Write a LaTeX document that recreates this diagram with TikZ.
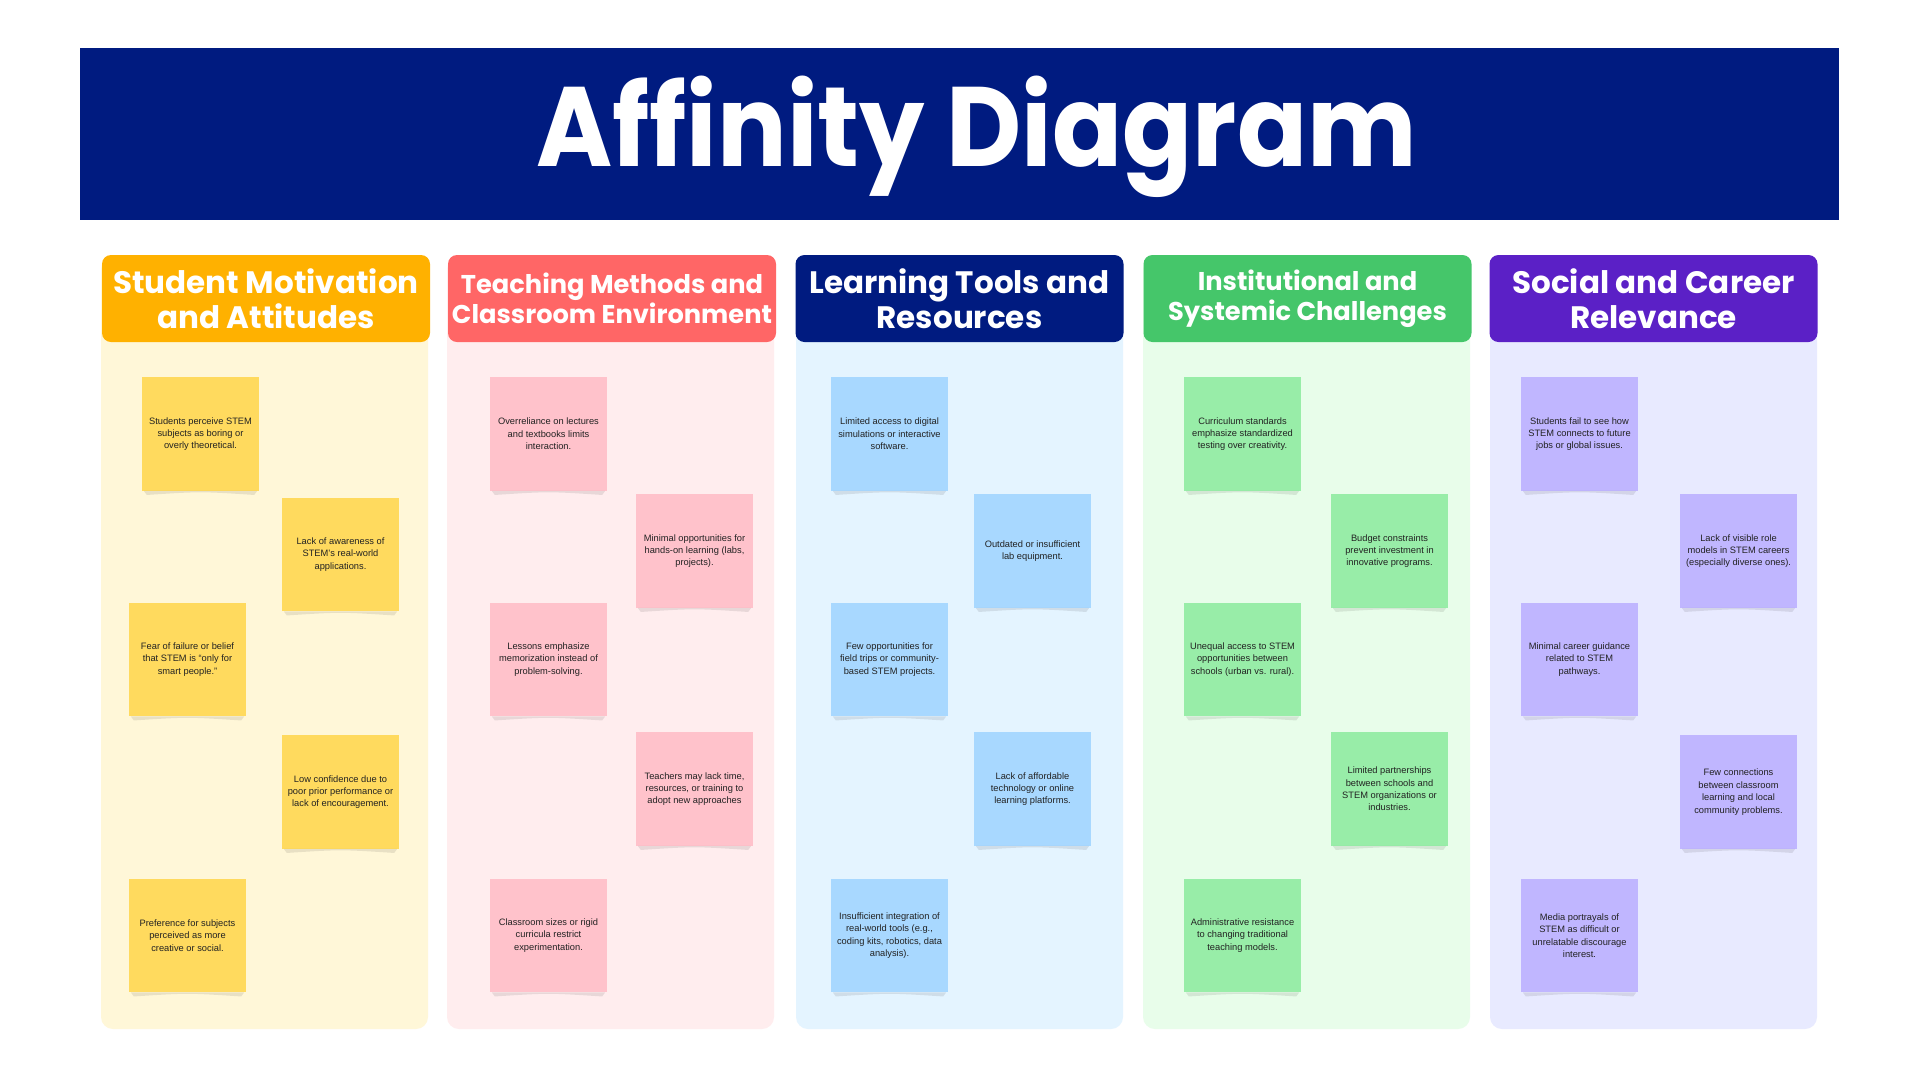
\documentclass[tikz,border=0pt]{standalone}
\usepackage{fontspec}
\setmainfont{Liberation Sans}
\newfontfamily\headfont{Poppins}
\newfontfamily\titlefont{Poppins}[FakeStretch=0.915]

% banner and header colours
\definecolor{navy}{HTML}{001B80}
\definecolor{hdyellow}{HTML}{FFB100}
\definecolor{hdcoral}{HTML}{FF6666}
\definecolor{hdgreen}{HTML}{45C66A}
\definecolor{hdpurple}{HTML}{5B20C6}
% column panels
\definecolor{bgyellow}{HTML}{FFF7D8}
\definecolor{bgpink}{HTML}{FFEDEE}
\definecolor{bgblue}{HTML}{E4F4FF}
\definecolor{bggreen}{HTML}{E8FDEA}
\definecolor{bgpurple}{HTML}{E8EAFF}
% sticky notes
\definecolor{ntyellow}{HTML}{FFDA5E}
\definecolor{ntpink}{HTML}{FFC2CB}
\definecolor{ntblue}{HTML}{A8D8FF}
\definecolor{ntgreen}{HTML}{98EDA8}
\definecolor{ntpurple}{HTML}{C0B6FF}
\definecolor{notetext}{HTML}{222222}

\tikzset{
  banner/.style={fill=navy, text=white, inner sep=0pt, minimum width=1759pt,
    minimum height=172pt},
  panel/.style={rounded corners=12pt, inner sep=0pt, minimum width=327pt, minimum height=772pt},
  header/.style={rounded corners=9pt, inner sep=0pt, minimum width=328pt, minimum height=87pt,
    text=white, align=center},
  bighead/.style={header, font=\headfont\bfseries\fontsize{31}{35}\selectfont},
  smallhead/.style={header, font=\headfont\bfseries\fontsize{25.7}{29.5}\selectfont},
  note/.style={inner sep=0pt, minimum width=117pt, minimum height=113.5pt, align=center,
    text=notetext, font=\fontsize{9.3}{12.4}\selectfont},
  curlshade/.style={fill=black, fill opacity=0.09}
}

% soft curled shadow under a sticky note
\newcommand\notecurl[1]{%
  \fill[curlshade] ([xshift=2pt]#1.south west) -- ([xshift=5pt,yshift=-4pt]#1.south west)
    .. controls ([yshift=-0.5pt]#1.south) .. ([xshift=-5pt,yshift=-4pt]#1.south east)
    -- ([xshift=-2pt]#1.south east) -- cycle;}

\begin{document}
\begin{tikzpicture}[x=1pt,y=-1pt]
\useasboundingbox (0,0) rectangle (1920,1080);
\fill[white] (0,0) rectangle (1920,1080);

% title banner
\node[banner] (title) at (959.5,134) {};
\node[text=white, inner sep=0pt, font=\titlefont\bfseries\fontsize{113}{113}\selectfont]
  (titletext) at ([xshift=17pt,yshift=-3pt]title.center) {Affinity Diagram};

% column panels
\node[panel, fill=bgyellow] (p1) at (264.5,643) {};
\node[panel, fill=bgpink]   (p2) at (610.5,643) {};
\node[panel, fill=bgblue]   (p3) at (959.5,643) {};
\node[panel, fill=bggreen]  (p4) at (1306.5,643) {};
\node[panel, fill=bgpurple] (p5) at (1653.5,643) {};

% column headers
\node[bighead, fill=hdyellow]   (h1) at (266,298.5) {Student Motivation\\and Attitudes};
\node[smallhead, fill=hdcoral]  (h2) at (612,298.5) {Teaching Methods and\\Classroom Environment};
\node[bighead, fill=navy]       (h3) at (959.5,298.5) {Learning Tools and\\Resources};
\node[smallhead, fill=hdgreen]  (h4) at (1307.5,298.5) {Institutional and\\Systemic Challenges};
\node[bighead, fill=hdpurple]   (h5) at (1653.5,298.5) {Social and Career\\Relevance};

% student motivation
\node[note, fill=ntyellow] (a1) at (200.5,434)   {Students perceive STEM\\subjects as boring or\\overly theoretical.};
\node[note, fill=ntyellow] (a2) at (340.5,554.5) {Lack of awareness of\\STEM's real-world\\applications.};
\node[note, fill=ntyellow] (a3) at (187.5,659.5) {Fear of failure or belief\\that STEM is “only for\\smart people.”};
\node[note, fill=ntyellow] (a4) at (340.5,792)   {Low confidence due to\\poor prior performance or\\lack of encouragement.};
\node[note, fill=ntyellow] (a5) at (187.5,935.5) {Preference for subjects\\perceived as more\\creative or social.};

% teaching methods
\node[note, fill=ntpink] (b1) at (548.5,434)   {Overreliance on lectures\\and textbooks limits\\interaction.};
\node[note, fill=ntpink] (b2) at (694.5,551)   {Minimal opportunities for\\hands-on learning (labs,\\projects).};
\node[note, fill=ntpink] (b3) at (548.5,659.5) {Lessons emphasize\\memorization instead of\\problem-solving.};
\node[note, fill=ntpink] (b4) at (694.5,789)   {Teachers may lack time,\\resources, or training to\\adopt new approaches};
\node[note, fill=ntpink] (b5) at (548.5,935.5) {Classroom sizes or rigid\\curricula restrict\\experimentation.};

% learning tools
\node[note, fill=ntblue] (c1) at (889.5,434)   {Limited access to digital\\simulations or interactive\\software.};
\node[note, fill=ntblue] (c2) at (1032.5,551)  {Outdated or insufficient\\lab equipment.};
\node[note, fill=ntblue] (c3) at (889.5,659.5) {Few opportunities for\\field trips or community-\\based STEM projects.};
\node[note, fill=ntblue] (c4) at (1032.5,789)  {Lack of affordable\\technology or online\\learning platforms.};
\node[note, fill=ntblue] (c5) at (889.5,935.5) {Insufficient integration of\\real-world tools (e.g.,\\coding kits, robotics, data\\analysis).};

% institutional challenges
\node[note, fill=ntgreen] (d1) at (1242.5,434)   {Curriculum standards\\emphasize standardized\\testing over creativity.};
\node[note, fill=ntgreen] (d2) at (1389.5,551)   {Budget constraints\\prevent investment in\\innovative programs.};
\node[note, fill=ntgreen] (d3) at (1242.5,659.5) {Unequal access to STEM\\opportunities between\\schools (urban vs. rural).};
\node[note, fill=ntgreen] (d4) at (1389.5,789)   {Limited partnerships\\between schools and\\STEM organizations or\\industries.};
\node[note, fill=ntgreen] (d5) at (1242.5,935.5) {Administrative resistance\\to changing traditional\\teaching models.};

% social and career relevance
\node[note, fill=ntpurple] (e1) at (1579.5,434)   {Students fail to see how\\STEM connects to future\\jobs or global issues.};
\node[note, fill=ntpurple] (e2) at (1738.5,551)   {Lack of visible role\\models in STEM careers\\(especially diverse ones).};
\node[note, fill=ntpurple] (e3) at (1579.5,659.5) {Minimal career guidance\\related to STEM\\pathways.};
\node[note, fill=ntpurple] (e4) at (1738.5,792)   {Few connections\\between classroom\\learning and local\\community problems.};
\node[note, fill=ntpurple] (e5) at (1579.5,935.5) {Media portrayals of\\STEM as difficult or\\unrelatable discourage\\interest.};

% curled shadows under every note
\foreach \n in {a1,a2,a3,a4,a5,b1,b2,b3,b4,b5,c1,c2,c3,c4,c5,d1,d2,d3,d4,d5,e1,e2,e3,e4,e5}
  {\notecurl{\n}}
\end{tikzpicture}
\end{document}
